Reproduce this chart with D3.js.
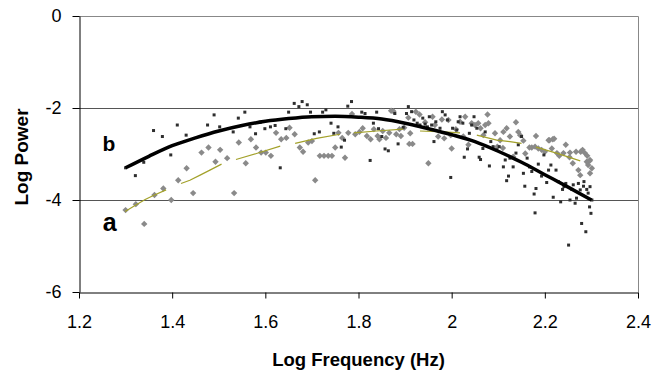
<!DOCTYPE html>
<html>
<head>
<meta charset="utf-8">
<script src="https://cdn.jsdelivr.net/npm/d3@7"></script>
<style>
  body { margin: 0; background: #fff; }
  text { font-family: Arial, "Liberation Sans", sans-serif; }
</style>
</head>
<body>
<script>
// Log power spectrum, two recordings (a = grey diamonds, b = black squares)

var W = 657;
var H = 374;
var Left = 79, Right = 638, Top = 16, Bottom = 292;

var xTicks = [1.2, 1.4, 1.6, 1.8, 2, 2.2, 2.4];
var yTicks = [0, -2, -4, -6];

// series a, [log frequency, log power]
var pointsA = [
  [1.300,-4.22],[1.322,-4.09],[1.340,-4.52],[1.362,-3.89],[1.381,-3.75],[1.398,-4.00],
  [1.413,-3.57],[1.431,-3.31],[1.445,-3.85],[1.463,-2.97],[1.478,-2.86],[1.493,-3.17],
  [1.503,-2.91],[1.518,-3.09],[1.533,-3.85],[1.543,-2.75],[1.558,-3.20],[1.569,-2.68],
  [1.580,-2.86],[1.591,-2.97],[1.601,-2.97],[1.612,-3.04],[1.623,-2.54],[1.634,-2.68],
  [1.645,-2.65],[1.652,-2.43],[1.663,-2.57],[1.674,-2.86],[1.681,-2.95],[1.692,-2.75],
  [1.700,-2.72],[1.707,-3.57],[1.717,-3.04],[1.726,-3.04],[1.735,-3.04],[1.743,-3.04],
  [1.750,-2.86],[1.757,-2.54],[1.765,-2.65],[1.771,-3.08],[1.778,-2.54],[1.786,-2.13],
  [1.793,-2.57],[1.802,-2.52],[1.809,-2.44],[1.818,-2.61],[1.826,-2.68],[1.833,-2.46],
  [1.841,-2.61],[1.845,-2.68],[1.852,-2.50],[1.859,-2.65],[1.866,-2.54],[1.870,-2.06],
  [1.875,-2.07],[1.881,-2.57],[1.888,-2.46],[1.891,-2.61],[1.898,-2.43],[1.907,-2.21],
  [1.909,-2.78],[1.911,-2.55],[1.916,-2.78],[1.923,-2.08],[1.931,-2.14],[1.943,-2.31],
  [1.950,-3.20],[1.959,-2.19],[1.964,-2.37],[1.971,-2.62],[1.979,-2.25],[1.984,-2.66],
  [1.993,-2.26],[1.998,-2.59],[2.000,-2.88],[2.009,-2.46],[2.018,-2.30],[2.025,-2.62],
  [2.029,-2.19],[2.036,-2.80],[2.043,-2.33],[2.050,-2.37],[2.057,-2.33],[2.062,-2.44],
  [2.068,-2.59],[2.072,-2.37],[2.077,-2.14],[2.079,-2.33],[2.093,-2.55],[2.098,-2.84],
  [2.104,-2.70],[2.110,-2.87],[2.111,-2.52],[2.118,-2.44],[2.125,-2.62],[2.132,-3.06],
  [2.138,-2.31],[2.143,-2.52],[2.147,-2.59],[2.154,-2.71],[2.158,-2.99],[2.167,-2.86],
  [2.172,-2.86],[2.179,-2.84],[2.181,-2.61],[2.186,-2.88],[2.193,-2.91],[2.200,-2.95],
  [2.208,-2.70],[2.210,-2.70],[2.215,-2.88],[2.217,-2.68],[2.220,-2.67],[2.226,-2.98],
  [2.231,-3.04],[2.240,-2.98],[2.245,-2.80],[2.253,-3.07],[2.254,-2.97],[2.260,-3.20],
  [2.267,-2.95],[2.272,-3.35],[2.276,-3.46],[2.277,-2.95],[2.281,-2.91],[2.286,-2.98],
  [2.290,-3.17],[2.291,-3.04],[2.293,-3.24],[2.296,-3.15],[2.297,-3.13],[2.301,-3.31],
  [2.297,-3.42]
];

// series b
var pointsB = [
  [1.300,-3.30],[1.321,-3.47],[1.339,-3.18],[1.360,-2.49],[1.379,-2.62],[1.397,-3.02],
  [1.411,-2.37],[1.430,-2.59],[1.476,-2.37],[1.490,-2.15],[1.502,-2.41],[1.531,-2.52],
  [1.542,-2.22],[1.556,-2.09],[1.567,-2.41],[1.579,-2.56],[1.589,-2.31],[1.599,-2.45],
  [1.611,-2.41],[1.621,-2.38],[1.632,-3.30],[1.644,-2.45],[1.650,-2.09],[1.662,-1.90],
  [1.672,-1.97],[1.679,-1.86],[1.690,-1.93],[1.697,-2.09],[1.705,-2.56],[1.716,-2.52],
  [1.723,-2.09],[1.730,-2.04],[1.741,-2.33],[1.747,-2.55],[1.756,-2.41],[1.763,-2.85],
  [1.770,-2.70],[1.777,-1.96],[1.785,-1.86],[1.807,-2.09],[1.814,-2.12],[1.825,-3.14],
  [1.832,-2.33],[1.839,-2.09],[1.843,-2.45],[1.850,-2.62],[1.857,-2.89],[1.864,-2.93],
  [1.878,-2.12],[1.885,-2.78],[1.896,-2.42],[1.903,-2.12],[1.907,-1.97],[1.914,-2.08],
  [1.919,-2.26],[1.926,-2.33],[1.932,-2.37],[1.938,-2.22],[1.943,-2.35],[1.948,-2.41],
  [1.952,-2.19],[1.957,-2.37],[1.962,-2.73],[1.966,-2.30],[1.975,-2.44],[1.980,-2.08],
  [1.986,-2.15],[1.991,-2.26],[1.998,-3.51],[2.002,-2.44],[2.011,-2.48],[2.014,-2.30],
  [2.018,-2.19],[2.024,-2.33],[2.027,-3.07],[2.034,-2.89],[2.038,-2.55],[2.043,-2.37],
  [2.048,-2.19],[2.054,-2.44],[2.059,-3.07],[2.062,-3.12],[2.067,-2.88],[2.072,-2.52],
  [2.081,-3.26],[2.084,-2.73],[2.089,-2.84],[2.097,-2.91],[2.102,-2.84],[2.111,-3.28],
  [2.115,-3.13],[2.118,-3.58],[2.122,-3.48],[2.125,-3.09],[2.132,-3.28],[2.138,-2.98],
  [2.143,-2.80],[2.150,-2.62],[2.154,-3.42],[2.157,-3.70],[2.162,-3.09],[2.167,-3.28],
  [2.172,-3.38],[2.177,-3.87],[2.179,-4.28],[2.181,-3.75],[2.186,-3.22],[2.193,-3.48],
  [2.198,-3.02],[2.204,-3.62],[2.208,-3.35],[2.213,-3.24],[2.218,-3.94],[2.224,-3.35],
  [2.229,-3.60],[2.234,-4.04],[2.238,-3.77],[2.241,-3.71],[2.245,-3.64],[2.251,-4.98],
  [2.254,-4.00],[2.258,-3.77],[2.261,-3.67],[2.265,-4.07],[2.268,-3.96],[2.272,-3.64],
  [2.276,-3.78],[2.279,-4.51],[2.283,-3.70],[2.284,-3.60],[2.288,-4.69],[2.290,-3.77],
  [2.293,-3.85],[2.296,-4.15],[2.299,-4.29],[2.301,-4.00],[2.297,-3.71]
];

// smooth fit through series b
var fitB = [
  [1.30,-3.30],[1.35,-3.05],[1.40,-2.82],[1.45,-2.65],[1.50,-2.50],[1.55,-2.38],
  [1.60,-2.29],[1.65,-2.23],[1.70,-2.19],[1.75,-2.18],[1.80,-2.20],[1.85,-2.24],
  [1.90,-2.33],[1.95,-2.45],[2.00,-2.58],[2.05,-2.73],[2.10,-2.94],[2.15,-3.18],
  [2.20,-3.45],[2.25,-3.72],[2.30,-4.00]
];

// running average of series a, drawn in broken pieces
var avgA = [
  [[1.299,-4.25],[1.322,-4.11],[1.342,-3.99],[1.362,-3.89],[1.387,-3.78]],
  [[1.419,-3.64],[1.438,-3.57],[1.460,-3.46],[1.481,-3.35],[1.506,-3.22]],
  [[1.537,-3.12],[1.581,-2.99],[1.632,-2.83]],
  [[1.664,-2.77],[1.710,-2.66],[1.760,-2.57]],
  [[1.790,-2.54],[1.839,-2.50],[1.896,-2.46]],
  [[1.932,-2.50],[1.982,-2.52],[2.018,-2.54]],
  [[2.054,-2.59],[2.097,-2.70],[2.125,-2.73],[2.150,-2.77]],
  [[2.181,-2.85],[2.225,-2.98],[2.276,-3.15]]
];

var labels = [["b", 1.264, -2.93, 21], ["a", 1.266, -4.67, 25]];

function main() {
  var svg = d3.select("body").append("svg")
    .attr("width", W)
    .attr("height", H);

  var x = d3.scaleLinear().domain([1.2, 2.4]).range([Left, Right]);
  var y = d3.scaleLinear().domain([-6, 0]).range([Bottom, Top]);

  // grid lines and frame
  svg.append("g").selectAll("line")
    .data([-2, -4])
    .enter().append("line")
    .attr("x1", Left).attr("x2", Right)
    .attr("y1", function(d) { return y(d) + 0.5; })
    .attr("y2", function(d) { return y(d) + 0.5; })
    .attr("stroke", "#555");
  svg.append("path")
    .attr("d", "M" + Left + "," + (Top + 0.5) + "H" + (Right + 0.5) + "V" + Bottom)
    .attr("fill", "none")
    .attr("stroke", "#888");

  var yAxis = d3.axisLeft(y).tickValues(yTicks).tickSize(7).tickSizeOuter(0)
    .tickFormat(function(d) { return d == 0 ? "0" : d3.format("d")(d).replace("\u2212", "-"); });
  var xAxis = d3.axisBottom(x).tickValues(xTicks).tickSize(6).tickSizeOuter(0)
    .tickFormat(function(d) { return String(d); });

  var gy = svg.append("g")
    .attr("transform", "translate(" + (Left + 0.5) + ",0)")
    .call(yAxis);
  var gx = svg.append("g")
    .attr("transform", "translate(0," + (Bottom + 0.5) + ")")
    .call(xAxis);
  [gx, gy].forEach(function(g) {
    g.select(".domain").attr("stroke", "#000");
    g.selectAll(".tick line").attr("stroke", "#000");
    g.selectAll("text").attr("font-size", 18).attr("fill", "#000")
      .attr("font-family", "Arial, 'Liberation Sans', sans-serif");
  });
  gy.selectAll("text").attr("x", -18);
  gx.selectAll("text").attr("y", 35).attr("dy", null);

  // scatter
  svg.append("g").selectAll("path")
    .data(pointsA)
    .enter().append("path")
    .attr("d", "M0,-3.2L3.2,0L0,3.2L-3.2,0Z")
    .attr("transform", function(d) { return "translate(" + x(d[0]) + "," + y(d[1]) + ")"; })
    .attr("fill", "#8a8a8a");
  svg.append("g").selectAll("rect")
    .data(pointsB)
    .enter().append("rect")
    .attr("x", function(d) { return x(d[0]) - 1.5; })
    .attr("y", function(d) { return y(d[1]) - 1.5; })
    .attr("width", 3).attr("height", 3)
    .attr("fill", "#2e2e2e");

  var line = d3.line()
    .x(function(d) { return x(d[0]); })
    .y(function(d) { return y(d[1]); });

  svg.append("g").selectAll("path")
    .data(avgA)
    .enter().append("path")
    .attr("d", line)
    .attr("fill", "none")
    .attr("stroke", "#a3a12a")
    .attr("stroke-width", 1.2);

  svg.append("path")
    .datum(fitB)
    .attr("d", line.curve(d3.curveMonotoneX))
    .attr("fill", "none")
    .attr("stroke", "#000")
    .attr("stroke-width", 3.5);

  svg.selectAll(".lab")
    .data(labels)
    .enter().append("text")
    .attr("x", function(d) { return x(d[1]); })
    .attr("y", function(d) { return y(d[2]); })
    .attr("text-anchor", "middle")
    .attr("font-weight", "bold")
    .attr("font-size", function(d) { return d[3]; })
    .text(function(d) { return d[0]; });

  // axis titles
  svg.append("text")
    .attr("x", (Left + Right) / 2)
    .attr("y", 366)
    .attr("text-anchor", "middle")
    .attr("font-weight", "bold")
    .attr("font-size", 18.5)
    .text("Log Frequency (Hz)");
  svg.append("text")
    .attr("transform", "translate(28,157) rotate(-90)")
    .attr("text-anchor", "middle")
    .attr("font-weight", "bold")
    .attr("font-size", 19)
    .text("Log Power");
}

main();
</script>
</body>
</html>
